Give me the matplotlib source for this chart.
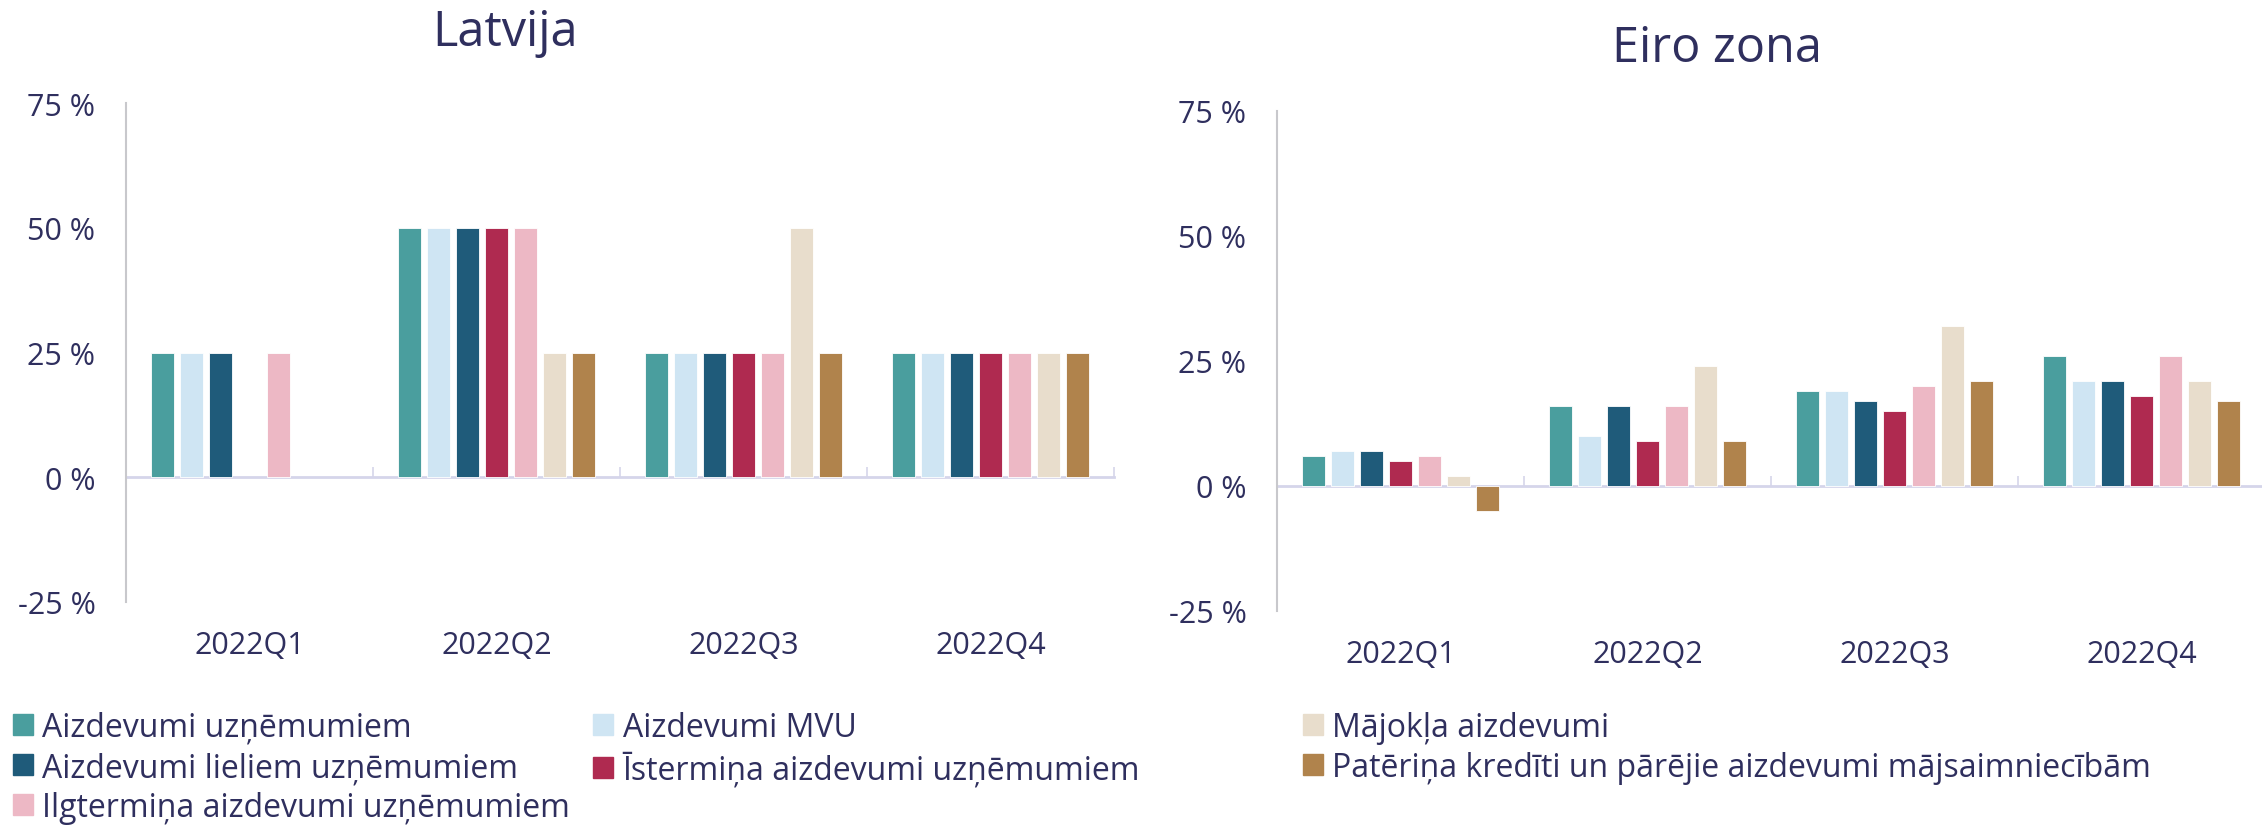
import numpy as np
import matplotlib.pyplot as plt
from matplotlib.patches import Patch

plt.rcParams['font.family'] = ['Open Sans', 'DejaVu Sans']

# dati
quarters = ['2022Q1', '2022Q2', '2022Q3', '2022Q4']
series_names = ['Aizdevumi uzņēmumiem', 'Aizdevumi MVU', 'Aizdevumi lieliem uzņēmumiem',
                'Īstermiņa aizdevumi uzņēmumiem', 'Ilgtermiņa aizdevumi uzņēmumiem',
                'Mājokļa aizdevumi', 'Patēriņa kredīti un pārējie aizdevumi mājsaimniecībām']
colors = ['#4A9E9E', '#CFE5F3', '#1F5B7A', '#AF2A50', '#EDB8C5', '#E8DDCC', '#B0834C']

# Latvija (nan = nav datu)
lv_uzn = [25, 50, 25, 25]
lv_mvu = [25, 50, 25, 25]
lv_liel = [25, 50, 25, 25]
lv_ist = [np.nan, 50, 25, 25]
lv_ilg = [25, 50, 25, 25]
lv_maj = [np.nan, 25, 50, 25]
lv_pat = [np.nan, 25, 25, 25]

# Eiro zona
ez_uzn = [6, 16, 19, 26]
ez_mvu = [7, 10, 19, 21]
ez_liel = [7, 16, 17, 21]
ez_ist = [5, 9, 15, 18]
ez_ilg = [6, 16, 20, 26]
ez_maj = [2, 24, 32, 21]
ez_pat = [-5, 9, 21, 17]

yticks = [-25, 0, 25, 50, 75]

lv_data = [lv_uzn, lv_mvu, lv_liel, lv_ist, lv_ilg, lv_maj, lv_pat]
ez_data = [ez_uzn, ez_mvu, ez_liel, ez_ist, ez_ilg, ez_maj, ez_pat]

txt = '#2F2F5E'
W, H = 2262, 829
fig = plt.figure(figsize=(W / 100, H / 100), dpi=100)

ax1 = fig.add_axes([126 / W, 1 - 603 / H, 988 / W, 499 / H])
ax2 = fig.add_axes([1277 / W, 1 - 612 / H, 988 / W, 500 / H])


def draw(ax, data):
    x = np.arange(len(quarters))
    slot = 0.117
    for i, vals in enumerate(data):
        off = (i - 3) * slot
        ax.bar(x + off, np.array(vals, dtype=float), width=0.093, color=colors[i],
               edgecolor='white', linewidth=0.6)
    ymin, ymax = -25, 75
    ax.set_ylim(ymin, ymax)
    ax.set_xlim(-0.5, len(quarters) - 0.5)
    ax.set_yticks(yticks)
    ax.set_yticklabels([f'{v} %' for v in yticks])
    ax.set_xticks(x)
    ax.set_xticklabels(quarters)
    ax.tick_params(axis='x', length=0, pad=20, labelsize=22, labelcolor=txt)
    ax.tick_params(axis='y', length=0, pad=22, labelsize=22, labelcolor=txt)
    for s in ['top', 'right', 'bottom']:
        ax.spines[s].set_visible(False)
    ax.spines['left'].set_color('#C8C8CC')
    ax.spines['left'].set_linewidth(1.5)
    # nulles līnija ar kategoriju robežām
    sec = ax.secondary_xaxis((0 - ymin) / (ymax - ymin))
    sec.set_xticks(x + 0.5)
    sec.tick_params(direction='in', length=7, width=1.2, color='#D5D5EA', labelbottom=False)
    sec.spines['bottom'].set_color('#D5D5EA')
    sec.spines['bottom'].set_linewidth(2)


draw(ax1, lv_data)
draw(ax2, ez_data)

fig.text(505 / W, 1 - 33 / H, 'Latvija', ha='center', va='center', fontsize=35, color=txt)
fig.text(1717 / W, 1 - 49 / H, 'Eiro zona', ha='center', va='center', fontsize=35, color=txt)

h = [Patch(color=c) for c in colors]
order = [0, 2, 4, 1, 3]
leg_kw = dict(frameon=False, fontsize=23, handlelength=0.62, handleheight=0.62,
              handletextpad=0.3, labelspacing=0.22, borderpad=0, borderaxespad=0,
              labelcolor=txt, loc='upper left')
fig.legend([h[i] for i in order], [series_names[i] for i in order], ncol=2,
           columnspacing=0.72, bbox_to_anchor=(13 / W, 1 - 712 / H), **leg_kw)
fig.legend(h[5:], series_names[5:], ncol=1,
           bbox_to_anchor=(1303 / W, 1 - 712 / H), **leg_kw)

fig.savefig('out.png', dpi=100)
